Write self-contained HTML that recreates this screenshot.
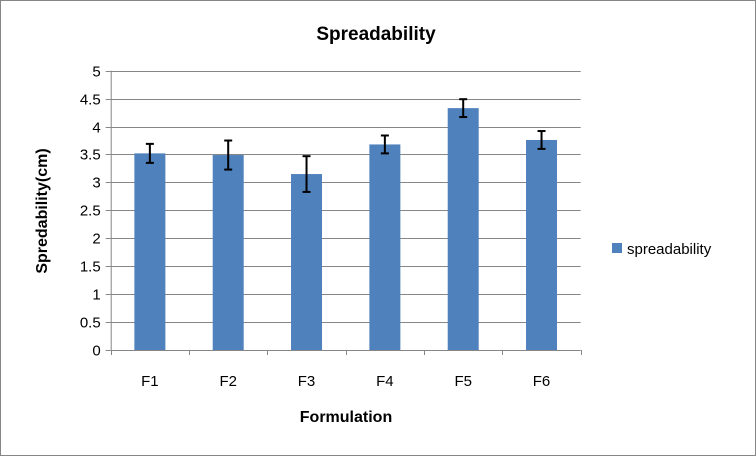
<!DOCTYPE html>
<html><head><meta charset="utf-8"><style>
html,body{margin:0;padding:0;background:#fff}
svg{display:block;font-family:"Liberation Sans",Arial,sans-serif}
</style></head><body>
<svg id="chart" width="756" height="456">
<rect x="0.5" y="0.5" width="755" height="455" fill="#fff" stroke="#868686"/>
<text x="376" y="40" text-anchor="middle" font-size="19" font-weight="bold">Spreadability</text>
<g id="grid"></g><g id="bars"></g><g id="axes"></g>
<text x="346" y="422" text-anchor="middle" font-size="16" font-weight="bold">Formulation</text>
<text transform="translate(47,211) rotate(-90)" text-anchor="middle" font-size="16" font-weight="bold">Spredability(cm)</text>
<rect x="612" y="243" width="10" height="10" fill="#4f81bd"/>
<text x="627" y="254" font-size="15">spreadability</text>
</svg>
<script>
const categories=["F1","F2","F3","F4","F5","F6"];
const values=[3.52,3.49,3.15,3.68,4.33,3.76];
const errors=[0.17,0.26,0.32,0.16,0.16,0.16];
const yTicks=["0","0.5","1","1.5","2","2.5","3","3.5","4","4.5","5"];
const X0=110.7,X1=580.7,Y0=350,Y1=70.7,YMAX=5;
const NS="http://www.w3.org/2000/svg";
const y=v=>Y0-(v/YMAX)*(Y0-Y1);
const bw=(X1-X0)/categories.length;
const xc=i=>X0+bw*(i+0.5);
function mk(t,a,p){const e=document.createElementNS(NS,t);for(const k in a)e.setAttribute(k,a[k]);p.appendChild(e);return e;}
const grid=document.getElementById('grid'),bars=document.getElementById('bars'),axes=document.getElementById('axes');
yTicks.forEach(t=>{const v=parseFloat(t),yy=Math.round(y(v))+0.5;
 if(v>0){const l=mk('line',{x1:X0,x2:X1,y1:yy,y2:yy,stroke:'#868686'},grid);
 
 }
 const tk=mk('line',{x1:X0-5,x2:X0,y1:yy,y2:yy,stroke:'#868686'},axes);
 
 
 const tx=mk('text',{x:X0-10,y:yy+5,'text-anchor':'end','font-size':15},axes);tx.textContent=t;
 
 });
const ya=mk('line',{x1:X0+0.5,x2:X0+0.5,y1:Y1,y2:Y0,stroke:'#868686'},axes);


const xa=mk('line',{x1:X0,x2:X1,y1:Y0+0.5,y2:Y0+0.5,stroke:'#868686'},axes);


for(let i=0;i<=categories.length;i++){const xx=Math.round(X0+bw*i)+0.5;
 const t=mk('line',{x1:xx,x2:xx,y1:Y0,y2:Y0+5,stroke:'#868686'},axes);
 
 }
categories.forEach((c,i)=>{const w=31,cx=xc(i);
 const r=mk('rect',{x:cx-w/2,y:y(values[i]),width:w,height:Y0-y(values[i]),fill:'#4f81bd'},bars);
 
 
 const g=mk('g',{stroke:'#000','stroke-width':2},bars);
 
 
 const hi=y(values[i]+errors[i]),lo=y(values[i]-errors[i]);
 mk('line',{x1:cx,x2:cx,y1:hi,y2:lo},g);
 mk('line',{x1:cx-4,x2:cx+4,y1:hi,y2:hi},g);
 mk('line',{x1:cx-4,x2:cx+4,y1:lo,y2:lo},g);
 const tx=mk('text',{x:cx,y:386,'text-anchor':'middle','font-size':15},axes);tx.textContent=c;
 
 });
</script>
</body></html>
